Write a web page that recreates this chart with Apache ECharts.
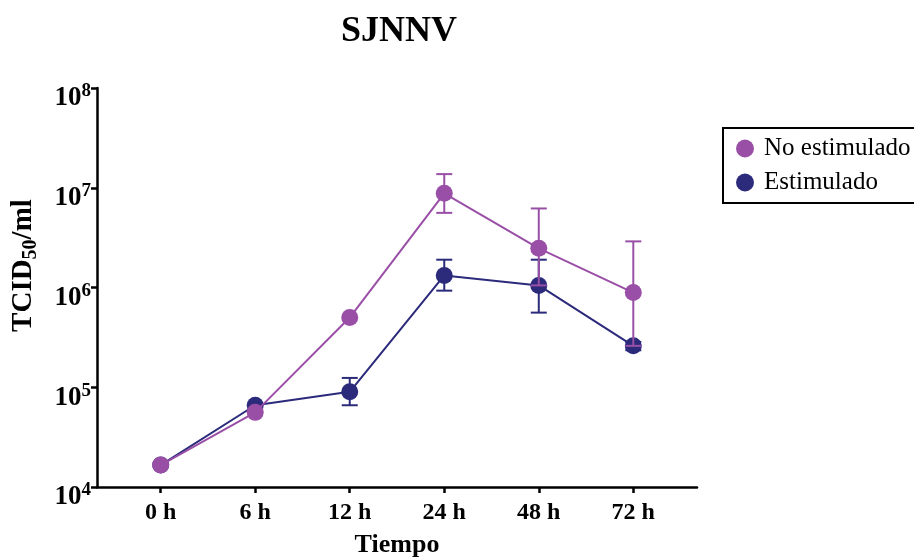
<!DOCTYPE html>
<html>
<head>
<meta charset="utf-8">
<script src="https://cdn.jsdelivr.net/npm/echarts@6/dist/echarts.min.js"></script>
<style>html,body{margin:0;padding:0;background:#fff}#c{width:914px;height:558px}</style>
</head>
<body>
<div id="c"></div>
<script>
const categories = ['0 h', '6 h', '12 h', '24 h', '48 h', '72 h'];
const noEstMean = [1.66e4, 5.6e4, 5.0e5, 8.8e6, 2.47e6, 8.9e5];
const noEstLow  = [null, null, null, 5.6e6, 1.05e6, 2.6e5];
const noEstHigh = [null, null, null, 1.37e7, 6.2e6, 2.9e6];
const estMean = [1.66e4, 6.6e4, 9.0e4, 1.32e6, 1.05e6, 2.6e5];
const estLow  = [null, null, 6.6e4, 9.3e5, 5.6e5, 2.35e5];
const estHigh = [null, null, 1.24e5, 1.9e6, 1.9e6, 2.85e5];
const seriesNames = ['No estimulado', 'Estimulado'];

const PURPLE = '#9a4fa7';
const NAVY = '#2b2a7b';
const FONT = 'Liberation Serif';

function pts(arr) { return arr.map((v, i) => [i, v]); }
function errData(low, high) {
  const out = [];
  low.forEach((l, i) => { if (l != null && high[i] != null) out.push([i, l, high[i]]); });
  return out;
}
function errSeries(name, low, high, color, z) {
  return {
    type: 'custom', name: name + ' err', z: z, silent: true,
    data: errData(low, high),
    encode: { x: 0, y: [1, 2] },
    renderItem: function (params, api) {
      const x = api.value(0);
      const lo = api.coord([x, api.value(1)]);
      const hi = api.coord([x, api.value(2)]);
      const hw = 8;
      const st = { stroke: color, lineWidth: 2 };
      return {
        type: 'group',
        children: [
          { type: 'line', shape: { x1: lo[0], y1: lo[1], x2: hi[0], y2: hi[1] }, style: st },
          { type: 'line', shape: { x1: lo[0] - hw, y1: lo[1], x2: lo[0] + hw, y2: lo[1] }, style: st },
          { type: 'line', shape: { x1: hi[0] - hw, y1: hi[1], x2: hi[0] + hw, y2: hi[1] }, style: st }
        ]
      };
    }
  };
}

const chart = echarts.init(document.getElementById('c'), null, { renderer: 'canvas' });
chart.setOption({
  animation: false,
  backgroundColor: '#fff',
  title: {
    text: 'SJNNV', left: 336, top: 9,
    textStyle: { fontFamily: FONT, fontSize: 36, fontWeight: 'bold', color: '#000' }
  },
  legend: {
    data: seriesNames, orient: 'vertical', left: 723, top: 128,
    borderColor: '#000', borderWidth: 2, padding: [8, 40, 8, 13],
    itemGap: 9, icon: 'circle', itemWidth: 18, itemHeight: 18,
    textStyle: { fontFamily: FONT, fontSize: 25, color: '#000', padding: [0, 0, 0, 5] }
  },
  grid: { left: 97, right: 217, top: 88, bottom: 71, containLabel: false, outerBoundsMode: 'none' },
  xAxis: {
    type: 'value', min: -0.674, max: 5.674,
    splitLine: { show: false },
    axisLine: { show: true, onZero: false, lineStyle: { color: '#000', width: 2.5 } },
    axisTick: { show: true, customValues: [0, 1, 2, 3, 4, 5], length: 6, lineStyle: { color: '#000', width: 2.5 } },
    axisLabel: {
      customValues: [0, 1, 2, 3, 4, 5], formatter: v => categories[Math.round(v)],
      fontFamily: FONT, fontSize: 24, fontWeight: 'bold', color: '#000', margin: 14
    },
    name: 'Tiempo', nameLocation: 'middle', nameGap: 45,
    nameTextStyle: { fontFamily: FONT, fontSize: 26, fontWeight: 'bold', color: '#000' }
  },
  yAxis: {
    type: 'log', logBase: 10, min: 1e4, max: 1e8,
    splitLine: { show: false },
    minorTick: { show: false },
    axisLine: { show: true, onZero: false, lineStyle: { color: '#000', width: 2.5 } },
    axisTick: { show: true, length: 6, lineStyle: { color: '#000', width: 2.5 } },
    axisLabel: {
      margin: 6,
      padding: [18, 0, 0, 0],
      formatter: v => '{b|10}{s|' + Math.round(Math.log10(v)) + '}',
      rich: {
        b: { fontFamily: FONT, fontSize: 27, fontWeight: 'bold', color: '#000', lineHeight: 30, verticalAlign: 'bottom' },
        s: { fontFamily: FONT, fontSize: 19, fontWeight: 'bold', color: '#000', lineHeight: 19, verticalAlign: 'top' }
      }
    },
    name: '{a|TCID}{sub|50}{a|/ml}', nameLocation: 'middle', nameGap: 56, nameRotate: 90,
    nameTextStyle: {
      padding: [0, 0, 0, 44],
      rich: {
        a: { fontFamily: FONT, fontSize: 29, fontWeight: 'bold', color: '#000', lineHeight: 32, verticalAlign: 'top' },
        sub: { fontFamily: FONT, fontSize: 20, fontWeight: 'bold', color: '#000', lineHeight: 20, verticalAlign: 'bottom' }
      }
    }
  },
  series: [
    errSeries('Estimulado', estLow, estHigh, NAVY, 2),
    {
      type: 'line', name: 'Estimulado', z: 3, data: pts(estMean),
      symbol: 'circle', symbolSize: 17,
      itemStyle: { color: NAVY }, lineStyle: { color: NAVY, width: 2 }
    },
    {
      type: 'line', name: 'No estimulado', z: 4, data: pts(noEstMean),
      symbol: 'circle', symbolSize: 17,
      itemStyle: { color: PURPLE }, lineStyle: { color: PURPLE, width: 2 }
    },
    errSeries('No estimulado', noEstLow, noEstHigh, PURPLE, 5)
  ]
});
</script>
</body>
</html>
